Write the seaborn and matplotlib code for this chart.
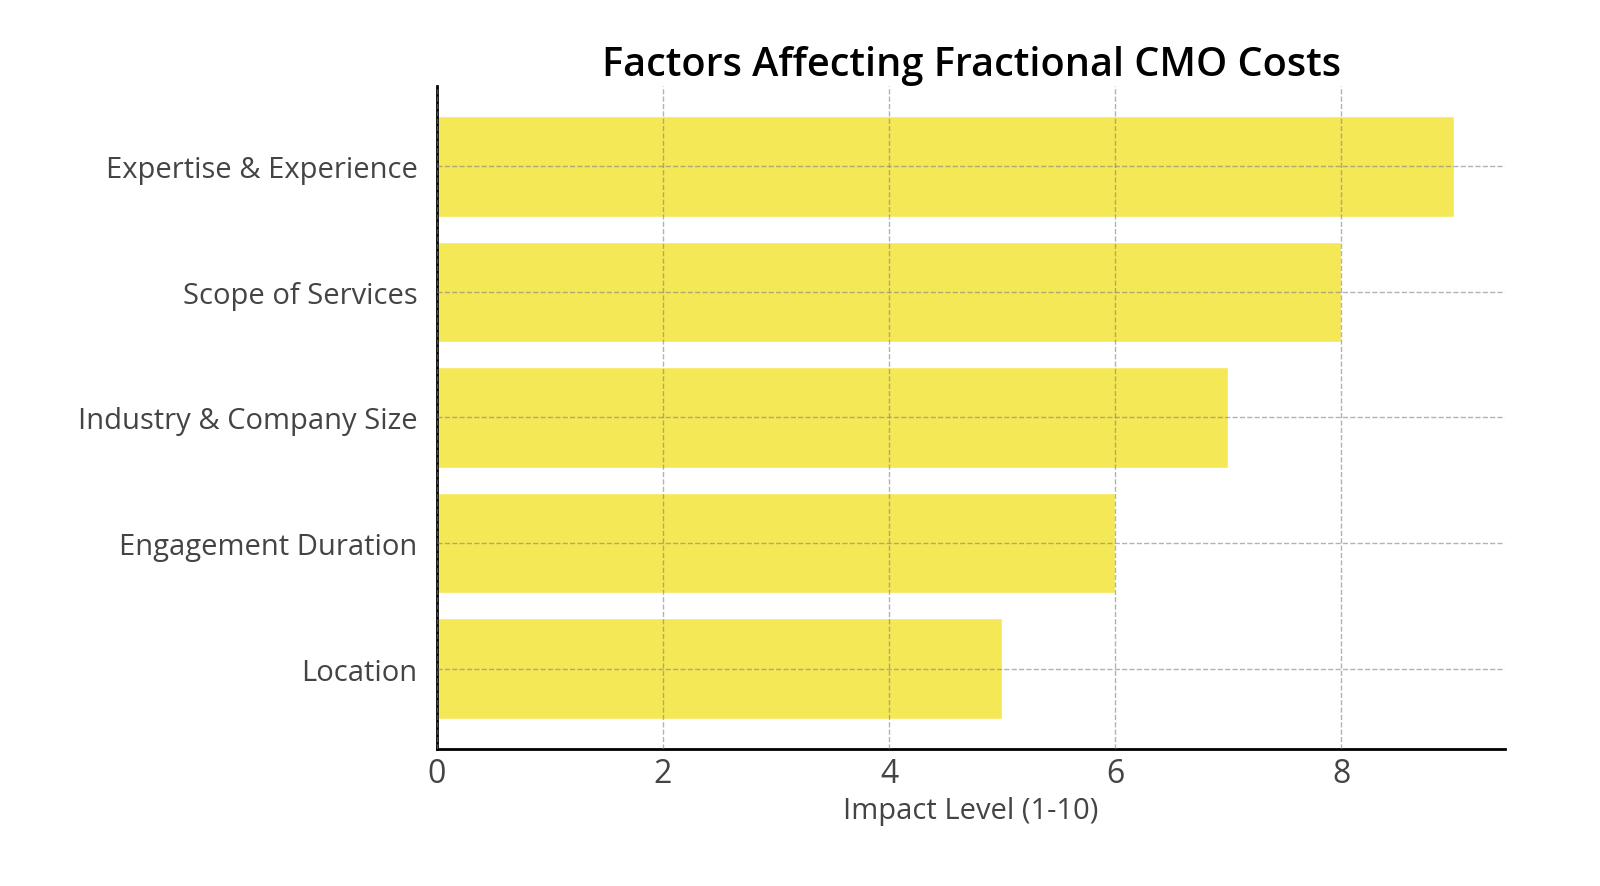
import matplotlib.pyplot as plt
import pandas as pd
import seaborn as sns

# Data
factors = ['Expertise & Experience', 'Scope of Services', 'Industry & Company Size',
           'Engagement Duration', 'Location']
impact = [9, 8, 7, 6, 5]

df = pd.DataFrame({'Factor': factors, 'Impact': impact})

sns.set_style('white')
plt.rcParams['font.family'] = ['Open Sans', 'DejaVu Sans']


def draw_bar_plot():
    fig = plt.figure(figsize=(16, 8.87), dpi=100)
    ax = fig.add_axes([437 / 1600, 1 - 750 / 887, (1505 - 437) / 1600, (750 - 87) / 887])

    sns.barplot(data=df, x='Impact', y='Factor', orient='h', color='#F4E857',
                saturation=1, width=0.8, ax=ax)
    ax.set_xlim(0, 9.45)
    ax.set_ylim(4.64, -0.64)

    ax.set_title('Factors Affecting Fractional CMO Costs', fontsize=28.5, fontweight='semibold',
                 color='black', pad=8)
    ax.set_xlabel('Impact Level (1-10)', fontsize=21, fontweight='medium', color='#444444',
                  labelpad=4)
    ax.set_ylabel('')
    ax.set_xticks([0, 2, 4, 6, 8])

    ax.set_axisbelow(False)
    ax.grid(True, linestyle='--', color='gray', alpha=0.6, linewidth=1)

    sns.despine(ax=ax)
    for s in ['left', 'bottom']:
        ax.spines[s].set_linewidth(2)
        ax.spines[s].set_color('black')
    ax.tick_params(axis='both', direction='in', length=7, width=2, colors='black')
    ax.tick_params(axis='y', labelsize=21, labelcolor='#444444', pad=14)
    ax.tick_params(axis='x', labelsize=23, labelcolor='#444444', pad=6)
    for lbl in ax.get_yticklabels() + ax.get_xticklabels():
        lbl.set_fontweight('medium')

    fig.patch.set_facecolor('white')
    fig.savefig('out.png')
    return fig


draw_bar_plot()
